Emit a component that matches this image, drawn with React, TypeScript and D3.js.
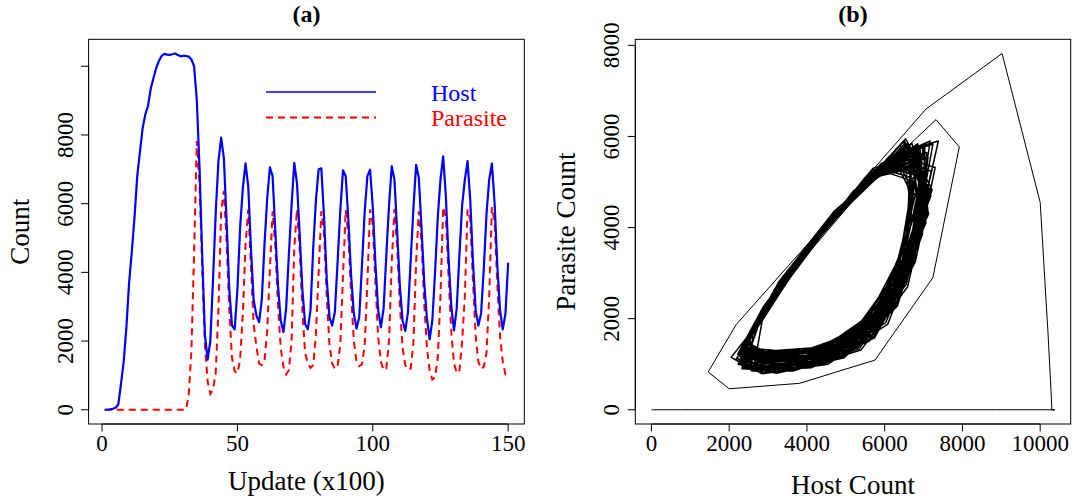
import React from "react";
import * as d3 from "d3";

// Population counts sampled every 100 updates (updates 1..150, x100)
const hostCount = [
  0, 0, 10, 30, 60, 150, 750, 1400, 2400, 3700,
  4600, 5600, 6800, 7500, 8200, 8600, 8850, 9350, 9650, 9950,
  10150, 10300, 10360, 10340, 10330, 10350, 10370, 10330, 10290, 10300,
  10300, 10280, 10200, 10000, 9020, 7060, 4500, 2180, 1460, 2000,
  3810, 5750, 7240, 7920, 7320, 5500, 3500, 2450, 2340, 3500,
  5300, 6450, 7170, 6500, 4700, 3200, 2750, 2550, 3200, 4800,
  6150, 7060, 6800, 5200, 3600, 2600, 2260, 2950, 4500, 5950,
  7190, 6600, 5100, 3500, 2500, 2340, 2900, 4700, 6100, 7000,
  7030, 5600, 3800, 2700, 2450, 2850, 4300, 5800, 6970, 6800,
  5500, 3900, 2800, 2360, 2700, 4200, 5750, 6800, 6990, 5900,
  4200, 2900, 2400, 2950, 4500, 5950, 7090, 6700, 5200, 3600,
  2600, 2290, 2850, 4350, 5850, 7130, 6750, 5300, 3700, 2650,
  2050, 2600, 4000, 5600, 6700, 7380, 6200, 4400, 3000, 2310,
  2950, 4500, 5950, 6700, 7240, 6100, 4300, 2900, 2450, 2800,
  4100, 5700, 6700, 7170, 6000, 4200, 2900, 2340, 2800, 4280,
];

const parasiteCount = [
  0, 0, 0, 0, 0, 0, 0, 0, 0, 0,
  0, 0, 0, 0, 0, 0, 0, 0, 0, 0,
  0, 0, 0, 0, 0, 0, 0, 0, 0, 0,
  0, 400, 1700, 4550, 7820, 6600, 4100, 1870, 830, 460,
  580, 1090, 2900, 5770, 6370, 4900, 2900, 1500, 1120, 1060,
  1450, 2800, 4800, 5830, 4200, 2500, 1850, 1350, 1300, 1400,
  2300, 4100, 5780, 4750, 3050, 1800, 1250, 1030, 1150, 2000,
  4700, 5830, 4650, 2900, 1650, 1350, 1220, 1300, 2200, 4000,
  5780, 5150, 3250, 1900, 1350, 1190, 1250, 1900, 3900, 5810,
  5050, 3350, 2000, 1400, 1270, 1320, 1850, 3700, 5830, 5400,
  3650, 2100, 1400, 1150, 1200, 2000, 4300, 5850, 4750, 3050,
  1800, 1300, 1170, 1200, 1950, 4300, 5780, 4850, 3100, 1800,
  1150, 880, 950, 1500, 3300, 5900, 5600, 3850, 2250, 1350,
  1060, 1150, 2000, 3300, 5830, 5550, 3750, 2150, 1400, 1190,
  1250, 1650, 3300, 5900, 5450, 3650, 2150, 1400, 1030, 1000,
];

// Continuation of the same run past update 15000 (phase plot only)
const hostLater = [
  5900, 6800, 6950, 5650, 3950, 2720,
  2357, 3670, 5350, 6557, 7135, 6505, 4720, 3145, 2305,
  2598, 3748, 5220, 6278, 6784, 6232, 4668, 3288, 2552,
  2350, 3300, 4900, 6200, 6900, 6700, 5150, 3550, 2550,
  2252, 3250, 4930, 6295, 7030, 6820, 5192, 3512, 2462,
  2460, 3058, 4484, 5818, 6600, 6692, 5496, 3932, 2828,
  2200, 2882, 4510, 6032, 6925, 7030, 5665, 3880, 2620,
  2330, 2650, 4100, 5650, 6650, 6980, 6050, 4300, 2950, 2330,
  2782, 4116, 5542, 6462, 6766, 5910, 4300, 3058, 2488,
  2450, 3700, 5300, 6450, 7000, 6400, 4700, 3200, 2400,
  2330, 3640, 5390, 6590, 7180, 6540, 4760, 3120, 2290,
  2506, 3380, 4852, 6048, 6692, 6508, 5082, 3610, 2690,
  2300, 2950, 4500, 5950, 6800, 6900, 5600, 3900, 2700,
  2170, 2850, 4540, 6080, 6970, 7080, 5700, 3860, 2600,
  2567, 4090, 5717, 6767, 7114, 6137, 4300, 2882, 2231,
  2810, 4150, 5500, 6400, 6720, 5880, 4320, 3090, 2520,
  2630, 3780, 5180, 6230, 6740, 6200, 4640, 3320, 2580,
  2230, 3220, 4960, 6330, 7070, 6850, 5220, 3490, 2440,
  2380, 3330, 4870, 6170, 6870, 6680, 5120, 3570, 2570,
  2490, 3090, 4450, 5780, 6560, 6660, 5470, 3950, 2850,
  2650, 4100, 5650, 6650, 6980, 6050, 4300, 2950, 2330,
  2380, 3700, 5320, 6530, 7100, 6480, 4700, 3160, 2320,
  2524, 3724, 5260, 6364, 7042, 6466, 4684, 3244, 2476,
  2301, 3275, 4915, 6248, 7015, 6910, 5171, 3531, 2506,
  2380, 3004, 4492, 5884, 6700, 6946, 5548, 3916, 2764,
  2281, 2609, 4095, 5684, 6709, 7197, 6244, 4300, 2916, 2281,
  2716, 4108, 5596, 6556, 7023, 6130, 4300, 3004, 2409,
  2404, 3685, 5325, 6504, 7218, 6603, 4710, 3173, 2353,
  2428, 3340, 4876, 6124, 6846, 6754, 5116, 3580, 2620,
  2250, 2916, 4505, 5991, 6863, 7115, 5633, 3890, 2660,
  2420, 2740, 4130, 5570, 6530, 7040, 6150, 4330, 3020, 2400,
  2609, 4095, 5684, 6709, 7197, 6244, 4300, 2916, 2281,
  2620, 3770, 5200, 6250, 6910, 6400, 4690, 3270, 2570,
  2270, 3240, 4950, 6310, 7110, 6990, 5210, 3500, 2450,
  2310, 2970, 4520, 5970, 6830, 7080, 5620, 3910, 2710,
  2240, 2590, 4110, 5740, 6790, 7300, 6310, 4310, 2870, 2220,
  2760, 4090, 5560, 6480, 6940, 6090, 4290, 3040, 2470,
  2510, 3700, 5280, 6390, 7070, 6490, 4700, 3230, 2460,
  2360, 3310, 4890, 6190, 6940, 6860, 5160, 3560, 2560,
  2470, 3070, 4470, 5800, 6580, 6830, 5480, 3940, 2840,
];

const parasiteLater = [
  1950, 3750, 5500, 5250, 3400, 1800,
  922, 870, 1342, 2760, 4860, 5910, 4270, 2560, 1353,
  1254, 1208, 1622, 2864, 4704, 5624, 4200, 2700, 1631,
  1150, 960, 1280, 2380, 4300, 5700, 4700, 3000, 1620,
  1027, 828, 1164, 2319, 4335, 5805, 4800, 2950, 1521,
  1440, 1162, 1346, 2128, 3784, 5348, 5100, 3400, 1935,
  1130, 817, 1027, 1920, 3810, 5595, 5250, 3350, 1700,
  1340, 990, 1060, 1700, 3300, 5200, 5450, 3800, 2300, 1340,
  1199, 1263, 1852, 3324, 5072, 5302, 3800, 2450, 1521,
  1050, 1000, 1450, 2800, 4800, 5800, 4250, 2600, 1460,
  900, 850, 1310, 2700, 4900, 5950, 4300, 2500, 1330,
  1346, 1171, 1466, 2478, 4244, 5532, 4650, 3050, 1778,
  1250, 950, 1150, 2000, 3800, 5500, 5200, 3380, 1790,
  1100, 790, 1000, 1880, 3850, 5650, 5300, 3300, 1680,
  859, 933, 1605, 3285, 5280, 5542, 3800, 2250, 1227,
  1230, 1300, 1900, 3380, 5020, 5260, 3800, 2480, 1560,
  1290, 1250, 1680, 2920, 4660, 5580, 4200, 2750, 1670,
  1000, 800, 1140, 2280, 4370, 5840, 4800, 2900, 1500,
  1180, 990, 1310, 2420, 4270, 5680, 4700, 3000, 1650,
  1470, 1200, 1380, 2170, 3760, 5320, 5050, 3420, 1960,
  990, 1060, 1700, 3300, 5200, 5450, 3780, 2330, 1340,
  940, 890, 1370, 2800, 4830, 5880, 4250, 2580, 1370,
  1152, 1104, 1536, 2832, 4752, 5712, 4300, 2700, 1546,
  1089, 894, 1222, 2350, 4318, 5753, 4700, 3000, 1571,
  1344, 1056, 1248, 2064, 3792, 5424, 5150, 3450, 1862,
  1284, 925, 997, 1653, 3293, 5240, 5496, 3900, 2250, 1284,
  1094, 1162, 1776, 3312, 5136, 5376, 3900, 2400, 1430,
  986, 935, 1396, 2780, 4830, 5855, 4350, 2650, 1407,
  1248, 1066, 1373, 2429, 4272, 5616, 4700, 3100, 1699,
  1191, 884, 1089, 1960, 3805, 5548, 5200, 3400, 1745,
  1450, 1110, 1190, 1800, 3280, 5100, 5400, 3950, 2400, 1420,
  925, 997, 1653, 3293, 5240, 5496, 3850, 2250, 1284,
  1270, 1230, 1650, 2900, 4680, 5600, 4350, 2800, 1650,
  1010, 810, 1150, 2300, 4350, 5830, 4750, 3000, 1510,
  1260, 960, 1170, 2030, 3830, 5520, 5150, 3450, 1800,
  1210, 850, 920, 1580, 3250, 5320, 5580, 3900, 2250, 1220,
  1180, 1240, 1830, 3300, 5110, 5330, 3850, 2400, 1500,
  1130, 1080, 1510, 2800, 4790, 5740, 4300, 2700, 1520,
  1160, 970, 1290, 2390, 4290, 5710, 4750, 3050, 1630,
  1450, 1180, 1360, 2150, 3770, 5330, 5050, 3450, 1950,
];

const updateTicks = [0, 50, 100, 150];
const countTicks = [0, 2000, 4000, 6000, 8000, 10000];
const countLabels = [0, 2000, 4000, 6000, 8000];
const hostTicks = [0, 2000, 4000, 6000, 8000, 10000];
const parasiteTicks = [0, 2000, 4000, 6000, 8000];
const seriesNames = ["Host", "Parasite"];
const seriesColors = ["#0000ff", "#ff0000"];

const FONT = "'Liberation Serif', 'Times New Roman', Times, serif";

// extend a data range by 4% on each side, like R's default axis style
function padded(lo: number, hi: number): [number, number] {
  const d = (hi - lo) * 0.04;
  return [lo - d, hi + d];
}

type Box = { left: number; right: number; top: number; bottom: number };
const boxA: Box = { left: 88.6, right: 524.3, top: 39.3, bottom: 424 };
const boxB: Box = { left: 635.3, right: 1070.7, top: 39.3, bottom: 424 };

function BottomAxis({ scale, ticks, box, labels }: { scale: d3.ScaleLinear<number, number>; ticks: number[]; box: Box; labels?: number[] }) {
  const shown = labels ?? ticks;
  return (
    <g>
      <line x1={scale(ticks[0])} x2={scale(ticks[ticks.length - 1])} y1={box.bottom} y2={box.bottom} stroke="#000" strokeWidth={1} />
      {ticks.map((t) => (
        <line key={t} x1={scale(t)} x2={scale(t)} y1={box.bottom} y2={box.bottom + 7.5} stroke="#000" strokeWidth={1} />
      ))}
      {shown.map((t) => (
        <text key={t} x={scale(t)} y={box.bottom + 27} textAnchor="middle" fontSize={23} fontFamily={FONT} fill="#000">
          {t}
        </text>
      ))}
    </g>
  );
}

function LeftAxis({ scale, ticks, box, labels }: { scale: d3.ScaleLinear<number, number>; ticks: number[]; box: Box; labels?: number[] }) {
  const shown = labels ?? ticks;
  return (
    <g>
      <line x1={box.left} x2={box.left} y1={scale(ticks[0])} y2={scale(ticks[ticks.length - 1])} stroke="#000" strokeWidth={1} />
      {ticks.map((t) => (
        <line key={t} x1={box.left - 7.5} x2={box.left} y1={scale(t)} y2={scale(t)} stroke="#000" strokeWidth={1} />
      ))}
      {shown.map((t) => (
        <text
          key={t}
          transform={`translate(${box.left - 16},${scale(t)}) rotate(-90)`}
          textAnchor="middle"
          fontSize={23}
          fontFamily={FONT}
          fill="#000"
        >
          {t}
        </text>
      ))}
    </g>
  );
}

function Frame({ box }: { box: Box }) {
  return (
    <rect x={box.left} y={box.top} width={box.right - box.left} height={box.bottom - box.top} fill="none" stroke="#000" strokeWidth={1} />
  );
}

export default function App() {
  const updates = hostCount.map((_, i) => i + 1);

  // Panel (a): counts over time
  const xA = d3.scaleLinear().domain(padded(d3.min(updates)!, d3.max(updates)!)).range([boxA.left, boxA.right]);
  const allA = hostCount.concat(parasiteCount);
  const yA = d3.scaleLinear().domain(padded(d3.min(allA)!, d3.max(allA)!)).range([boxA.bottom, boxA.top]);
  const lineA = d3
    .line<number>()
    .x((_, i) => xA(updates[i]))
    .y((d) => yA(d));

  // Panel (b): host vs parasite phase plot
  const hostAll = hostCount.concat(hostLater);
  const parasiteAll = parasiteCount.concat(parasiteLater);
  const pairs: [number, number][] = hostAll.map((h, i) => [h, parasiteAll[i]]);
  const xB = d3.scaleLinear().domain(padded(d3.min(hostAll)!, d3.max(hostAll)!)).range([boxB.left, boxB.right]);
  const yB = d3.scaleLinear().domain(padded(d3.min(parasiteAll)!, d3.max(parasiteAll)!)).range([boxB.bottom, boxB.top]);
  const lineB = d3
    .line<[number, number]>()
    .x((d) => xB(d[0]))
    .y((d) => yB(d[1]));
  // the opening transient and the settled cycles
  const transient = pairs.slice(0, 47);
  const settled = pairs.slice(46);

  const midA = (boxA.left + boxA.right) / 2;
  const midB = (boxB.left + boxB.right) / 2;
  const midY = (boxA.top + boxA.bottom) / 2;

  const legendX1 = 266;
  const legendX2 = 376;
  const legendTextX = 431;
  const legendRows = [92, 117.5];

  return (
    <div style={{ position: "absolute", left: 0, top: 0 }}>
      <svg width={1074} height={502} style={{ display: "block", background: "#fff" }}>
        <rect x={0} y={0} width={1074} height={502} fill="#fff" />

        {/* (a) */}
        <text x={midA} y={22} textAnchor="middle" fontSize={24} fontWeight="bold" fontFamily={FONT} fill="#000">
          (a)
        </text>
        <path d={lineA(parasiteCount) ?? ""} fill="none" stroke={seriesColors[1]} strokeWidth={2} strokeDasharray="7,5" />
        <path d={lineA(hostCount) ?? ""} fill="none" stroke={seriesColors[0]} strokeWidth={2.2} strokeLinejoin="round" />
        <Frame box={boxA} />
        <BottomAxis scale={xA} ticks={updateTicks} box={boxA} />
        <LeftAxis scale={yA} ticks={countTicks} labels={countLabels} box={boxA} />
        <text x={midA} y={490} textAnchor="middle" fontSize={27} fontFamily={FONT} fill="#000">
          Update (x100)
        </text>
        <text transform={`translate(29,${midY}) rotate(-90)`} textAnchor="middle" fontSize={27} fontFamily={FONT} fill="#000">
          Count
        </text>

        {/* legend */}
        {seriesNames.map((name, i) => (
          <g key={name}>
            <line
              x1={legendX1}
              x2={legendX2}
              y1={legendRows[i]}
              y2={legendRows[i]}
              stroke={seriesColors[i]}
              strokeWidth={i === 0 ? 1.6 : 1.8}
              strokeDasharray={i === 0 ? undefined : "7,5"}
            />
            <text x={legendTextX} y={legendRows[i] + 8.5} fontSize={24} fontFamily={FONT} fill={seriesColors[i]}>
              {name}
            </text>
          </g>
        ))}

        {/* (b) */}
        <text x={midB} y={22} textAnchor="middle" fontSize={24} fontWeight="bold" fontFamily={FONT} fill="#000">
          (b)
        </text>
        <path d={lineB(transient) ?? ""} fill="none" stroke="#000" strokeWidth={1} strokeLinejoin="round" />
        <path d={lineB(settled) ?? ""} fill="none" stroke="#000" strokeWidth={1.5} strokeLinejoin="round" />
        <Frame box={boxB} />
        <BottomAxis scale={xB} ticks={hostTicks} box={boxB} />
        <LeftAxis scale={yB} ticks={parasiteTicks} box={boxB} />
        <text x={midB} y={494} textAnchor="middle" fontSize={27} fontFamily={FONT} fill="#000">
          Host Count
        </text>
        <text transform={`translate(575,${midY}) rotate(-90)`} textAnchor="middle" fontSize={27} fontFamily={FONT} fill="#000">
          Parasite Count
        </text>
      </svg>
    </div>
  );
}
